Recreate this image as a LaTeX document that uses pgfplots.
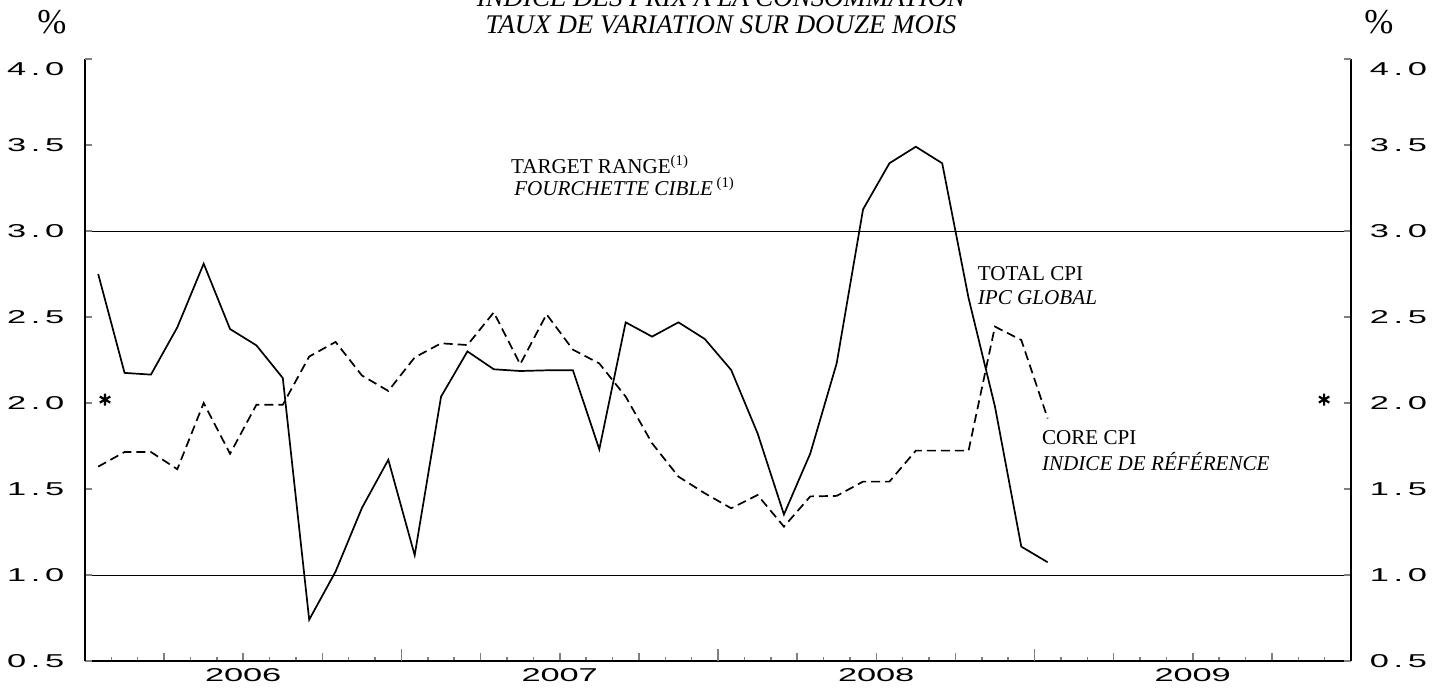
\documentclass[border=0pt]{standalone}
\usepackage{fontspec}
\setmainfont{Liberation Serif}
\newfontfamily\tickfont[FakeStretch=1.85]{Liberation Sans}
\usepackage{pgfplots}
\pgfplotsset{compat=1.18}
\usepackage{pgfplotstable}
\newcommand\cy[1]{\hbox to 9.5bp{\hss#1\hss}}
\newcommand\cx[1]{\hbox to 9.5bp{\hss#1\hss}}
\newcommand\tf{\tickfont\fontsize{9.3bp}{10bp}\selectfont}

\pgfplotstableread{
x total core
0.5 2.75 1.63
1.5 2.175 1.715
2.5 2.165 1.715
3.5 2.44 1.615
4.5 2.81 2.00
5.5 2.43 1.705
6.5 2.335 1.99
7.5 2.145 1.99
8.5 0.74 2.27
9.5 1.02 2.355
10.5 1.39 2.16
11.5 1.67 2.07
12.5 1.115 2.265
13.5 2.037 2.347
14.5 2.30 2.337
15.5 2.196 2.527
16.5 2.186 2.225
17.5 2.19 2.516
18.5 2.19 2.31
19.5 1.731 2.23
20.5 2.469 2.037
21.5 2.386 1.766
22.5 2.469 1.572
23.5 2.372 1.475
24.5 2.192 1.388
25.5 1.824 1.465
26.5 1.352 1.281
27.5 1.707 1.457
28.5 2.231 1.46
29.5 3.126 1.543
30.5 3.394 1.543
31.5 3.49 1.723
32.5 3.394 1.723
33.5 2.61 1.723
34.5 1.98 2.444
35.5 1.165 2.366
36.5 1.074 1.91
}\cpidata

\begin{document}
\begin{tikzpicture}
\begin{axis}[
  name=main,
  scale only axis, width=633bp, height=301bp,
  xmin=0, xmax=48, ymin=0.5, ymax=4.0,
  axis x line*=bottom,
  axis line style={line width=0.8bp},
  tick align=inside,
  xtick={3,6,9,15,18,21,27,30,33,39,42,45},
  xticklabels={{},\cx{2}\cx{0}\cx{0}\cx{6},{},{},\cx{2}\cx{0}\cx{0}\cx{7},{},{},\cx{2}\cx{0}\cx{0}\cx{8},{},{},\cx{2}\cx{0}\cx{0}\cx{9},{}},
  minor xtick={0,1,...,48},
  major tick length=4bp, minor tick length=2bp,
  extra x ticks={12,24,36}, extra x tick labels={},
  extra x tick style={major tick length=6bp},
  xtick style={line width=0.75bp},
  xticklabel style={font=\tf, inner sep=0pt, anchor=north},
  xticklabel shift=3.5bp,
  ytick={0.5,1,1.5,2,2.5,3,3.5},
  yticklabels={\cy{0}\cy{.}\cy{5},\cy{1}\cy{.}\cy{0},\cy{1}\cy{.}\cy{5},\cy{2}\cy{.}\cy{0},\cy{2}\cy{.}\cy{5},\cy{3}\cy{.}\cy{0},\cy{3}\cy{.}\cy{5}},
  extra y ticks={4}, extra y tick labels={\cy{4}\cy{.}\cy{0}},
  extra y tick style={yticklabel style={yshift=-5bp}},
  ytick style={draw=none},
  yticklabel pos=left,
  yticklabel style={font=\tf, inner sep=0pt, anchor=east},
  yticklabel shift=10.25bp,
  clip=false,
]
\addplot[line width=0.4bp] coordinates {(0,3) (48,3)};
\addplot[line width=0.4bp] coordinates {(0,1) (48,1)};
\addplot[line width=0.85bp, dash pattern=on 4.5bp off 2.5bp] table[x=x, y=core] {\cpidata};
\addplot[line width=0.85bp] table[x=x, y=total] {\cpidata};
\addplot[only marks, mark=asterisk, mark size=3bp, mark options={line width=1.1bp}] coordinates {(0.76,2.02) (46.98,2.02)};
\node[anchor=base west, inner sep=0pt, font=\fontsize{10.6}{12}\selectfont] at (axis cs:16.14,3.335) {TARGET RANGE\textsuperscript{(1)}};
\node[anchor=base west, inner sep=0pt, font=\itshape\fontsize{10.6}{12}\selectfont] at (axis cs:16.26,3.205) {FOURCHETTE CIBLE\,\textsuperscript{\upshape(1)}};
\node[anchor=base west, inner sep=0pt, font=\fontsize{10.6}{12}\selectfont] at (axis cs:33.84,2.715) {TOTAL CPI};
\node[anchor=base west, inner sep=0pt, font=\itshape\fontsize{10.6}{12}\selectfont] at (axis cs:33.84,2.57) {IPC GLOBAL};
\node[anchor=base west, inner sep=0pt, font=\fontsize{10.6}{12}\selectfont] at (axis cs:36.27,1.756) {CORE CPI};
\node[anchor=base west, inner sep=0pt, font=\itshape\fontsize{10.6}{12}\selectfont] at (axis cs:36.27,1.61) {INDICE DE RÉFÉRENCE};
\end{axis}
\begin{axis}[
  scale only axis, width=633bp, height=301bp,
  xmin=0, xmax=48, ymin=0.5, ymax=4.0,
  hide x axis,
  axis line style={line width=0.8bp},
  tick align=inside,
  ytick={0.5,1,1.5,2,2.5,3,3.5},
  yticklabels={\cy{0}\cy{.}\cy{5},\cy{1}\cy{.}\cy{0},\cy{1}\cy{.}\cy{5},\cy{2}\cy{.}\cy{0},\cy{2}\cy{.}\cy{5},\cy{3}\cy{.}\cy{0},\cy{3}\cy{.}\cy{5}},
  extra y ticks={4}, extra y tick labels={\cy{4}\cy{.}\cy{0}},
  extra y tick style={yticklabel style={yshift=-5bp}},
  ytick pos=both,
  major tick length=3.5bp,
  ytick style={line width=0.75bp},
  yticklabel pos=right,
  yticklabel style={font=\tf, inner sep=0pt, anchor=west},
  yticklabel shift=9.25bp,
]
\end{axis}
\node[anchor=base, inner sep=0pt, font=\itshape\fontsize{13.5}{14}\selectfont] at (318bp,327.3bp) {INDICE DES PRIX À LA CONSOMMATION};
\node[anchor=base, inner sep=0pt, font=\itshape\fontsize{13.5}{14}\selectfont] at (318bp,313.5bp) {TAUX DE VARIATION SUR DOUZE MOIS};
\node[inner sep=0pt, font=\fontsize{17.5}{18}\selectfont] at (-16.5bp,319.5bp) {\%};
\node[inner sep=0pt, font=\fontsize{17.5}{18}\selectfont] at (647bp,319.5bp) {\%};
\pgfresetboundingbox
\path[use as bounding box] (-42.5bp,-13.5bp) rectangle (678.5bp,330.5bp);
\end{tikzpicture}
\end{document}
